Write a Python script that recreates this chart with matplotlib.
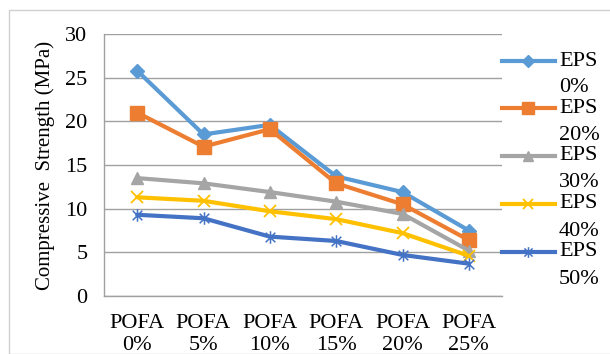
import matplotlib
matplotlib.use("Agg")
import matplotlib.pyplot as plt
from matplotlib.lines import Line2D
from matplotlib.patches import Rectangle
from matplotlib.path import Path

categories = ["POFA\n0%", "POFA\n5%", "POFA\n10%", "POFA\n15%", "POFA\n20%", "POFA\n25%"]
series_names = ["EPS\n0%", "EPS\n20%", "EPS\n30%", "EPS\n40%", "EPS\n50%"]
eps0 = [25.8, 18.5, 19.6, 13.7, 11.9, 7.5]
eps20 = [21.0, 17.1, 19.1, 12.9, 10.5, 6.4]
eps30 = [13.5, 12.9, 11.9, 10.8, 9.4, 5.2]
eps40 = [11.3, 10.9, 9.7, 8.8, 7.2, 4.6]
eps50 = [9.3, 8.9, 6.8, 6.3, 4.7, 3.7]

yticks = [0, 5, 10, 15, 20, 25, 30]

# Excel-style star marker: an "x" crossed by a vertical stroke
star = Path([(-1, -1), (1, 1), (-1, 1), (1, -1), (0, -1.3), (0, 1.3)],
            [Path.MOVETO, Path.LINETO, Path.MOVETO, Path.LINETO, Path.MOVETO, Path.LINETO])

styles = [
    dict(color="#5B9BD5", marker="D", ms=7),
    dict(color="#ED7D31", marker="s", ms=10),
    dict(color="#A5A5A5", marker="^", ms=9),
    dict(color="#FFC000", marker="x", ms=9, mew=1.3),
    dict(color="#4472C4", marker=star, ms=9, mew=1.1),
]

plt.rcParams["font.family"] = ["Liberation Serif", "DejaVu Serif"]
FS = 16

W, H = 610, 354
fig = plt.figure(figsize=(W / 100, H / 100), dpi=100)

# outer chart-area border
fig.add_artist(Rectangle((9 / W, 0), 1.2, 1 - 10 / H, transform=fig.transFigure,
                         fill=False, edgecolor="#D0D0D0", linewidth=1.0))

left, right, top, bottom = 104, 502, 34, 296
ax = fig.add_axes([left / W, 1 - bottom / H, (right - left) / W, (bottom - top) / H])

x = list(range(len(categories)))
all_series = [eps0, eps20, eps30, eps40, eps50]
for vals, st in zip(all_series, styles):
    ax.plot(x, vals, color=st["color"], lw=3.0, marker=st["marker"], ms=st["ms"],
            mew=st.get("mew", 1.0), mec=st["color"], mfc=st["color"], zorder=3,
            solid_capstyle="round")

ax.set_xlim(-0.5, len(categories) - 0.5)
ax.set_ylim(0, 30)
ax.set_yticks(yticks)
ax.set_yticklabels([str(t) for t in yticks], fontsize=FS)
ax.set_xticks(x)
ax.set_xticklabels(categories, fontsize=FS, linespacing=1.2)
ax.tick_params(length=0)
ax.tick_params(axis="y", pad=12)
ax.tick_params(axis="x", pad=13)
ax.grid(axis="y", color="#A0A0A0", lw=1.0)
ax.set_axisbelow(True)
for s in ["top", "right"]:
    ax.spines[s].set_visible(False)
for s in ["left", "bottom"]:
    ax.spines[s].set_color("#A0A0A0")
    ax.spines[s].set_linewidth(1.0)
ax.set_ylabel("Compressive  Strength (MPa)", fontsize=15)
ax.yaxis.set_label_coords((55 - left) / (right - left), 0.5)

# legend drawn at the right of the plot area
leg_y = [61, 108, 156, 204, 252]
for name, st, py in zip(series_names, styles, leg_y):
    yf = 1 - py / H
    fig.add_artist(Line2D([502 / W, 555 / W], [yf, yf], transform=fig.transFigure,
                          color=st["color"], lw=3.0))
    fig.add_artist(Line2D([528 / W], [yf], transform=fig.transFigure,
                          color=st["color"], marker=st["marker"], ms=st["ms"] * 0.85,
                          mew=st.get("mew", 1.0), mec=st["color"], mfc=st["color"], lw=0))
    first, second = name.split("\n")
    fig.text(559 / W, yf, first, fontsize=FS, va="center", ha="left")
    fig.text(559 / W, 1 - (py + 27) / H, second, fontsize=FS, va="center", ha="left")

fig.savefig("out.png", dpi=100)
